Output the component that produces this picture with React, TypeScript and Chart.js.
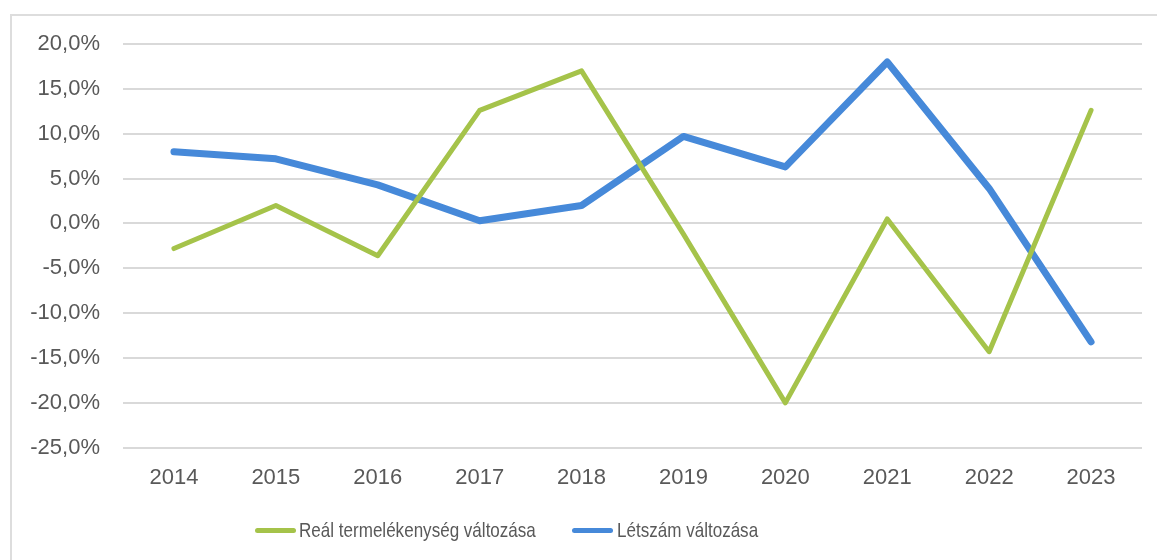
import React, { useEffect, useRef } from "react";
import { Chart, registerables } from "chart.js";

Chart.register(...registerables);

const years = ["2014", "2015", "2016", "2017", "2018", "2019", "2020", "2021", "2022", "2023"];
const productivityChange = [-2.8, 2.0, -3.6, 12.6, 17.0, -1.2, -20.0, 0.5, -14.3, 12.6];
const headcountChange = [8.0, 7.2, 4.3, 0.3, 2.0, 9.7, 6.3, 18.0, 3.9, -13.2];
const seriesLabels = ["Reál termelékenység változása", "Létszám változása"];
const seriesColors = ["#A5C34A", "#4689D9"];
const seriesWidths = [5, 7];
const yMin = -25;
const yMax = 20;
const yStep = 5;

const formatPct = (v: number) => v.toFixed(1).replace(".", ",") + "%";

export default function App() {
  const ref = useRef<HTMLCanvasElement | null>(null);

  useEffect(() => {
    if (!ref.current) return;
    const chart = new Chart(ref.current, {
      type: "line",
      data: {
        labels: years,
        datasets: [
          {
            label: seriesLabels[0],
            data: productivityChange,
            borderColor: seriesColors[0],
            backgroundColor: seriesColors[0],
            borderWidth: seriesWidths[0],
            pointRadius: 0,
            borderCapStyle: "round",
            borderJoinStyle: "round",
            tension: 0,
          },
          {
            label: seriesLabels[1],
            data: headcountChange,
            borderColor: seriesColors[1],
            backgroundColor: seriesColors[1],
            borderWidth: seriesWidths[1],
            pointRadius: 0,
            borderCapStyle: "round",
            borderJoinStyle: "round",
            tension: 0,
          },
        ],
      },
      options: {
        animation: false,
        responsive: false,
        devicePixelRatio: 1,
        layout: { padding: { left: 0, right: 15, top: 44, bottom: 50 } },
        plugins: {
          legend: { display: false },
          tooltip: { enabled: false },
        },
        scales: {
          x: {
            offset: true,
            grid: { display: false, drawTicks: false, offset: true },
            border: { display: false },
            ticks: {
              color: "#595959",
              font: { family: "'Liberation Sans', Arial, sans-serif", size: 22 },
              padding: 17,
              maxRotation: 0,
            },
            afterFit: (scale: any) => {
              scale.height = 62.3;
            },
          },
          y: {
            min: yMin,
            max: yMax,
            grid: { color: "#D9D9D9", lineWidth: 2, drawTicks: false },
            border: { display: false },
            ticks: {
              stepSize: yStep,
              color: "#595959",
              font: { family: "'Liberation Sans', Arial, sans-serif", size: 22 },
              padding: 23,
              callback: (v: any) => formatPct(Number(v)),
            },
            afterFit: (scale: any) => {
              scale.width = 123;
            },
          },
        },
      },
    });
    return () => chart.destroy();
  }, []);

  const legendFont = "'Liberation Sans', Arial, sans-serif";
  const swatchLeft = [255, 572];
  const textLeft = [299, 617];
  const textWidth = [237, 142];
  const naturalWidth = [292, 175];

  return (
    <div>
      <div
        style={{
          position: "fixed",
          left: 10,
          top: 14,
          width: 1200,
          height: 600,
          border: "2px solid #DDDDDD",
          boxSizing: "border-box",
        }}
      />
      <canvas
        ref={ref}
        width={1157}
        height={560}
        style={{ position: "fixed", left: 0, top: 0, width: 1157, height: 560 }}
      />
      {seriesLabels.map((lab, i) => (
        <React.Fragment key={lab}>
          <span
            style={{
              position: "fixed",
              left: swatchLeft[i],
              top: 528,
              width: 41,
              height: 5,
              borderRadius: 3,
              background: seriesColors[i],
            }}
          />
          <span
            style={{
              position: "fixed",
              left: textLeft[i],
              top: 518,
              fontFamily: legendFont,
              fontSize: 21,
              lineHeight: "24px",
              color: "#595959",
              whiteSpace: "nowrap",
              transformOrigin: "0 50%",
              transform: `scaleX(${textWidth[i] / naturalWidth[i]})`,
            }}
          >
            {lab}
          </span>
        </React.Fragment>
      ))}
    </div>
  );
}
